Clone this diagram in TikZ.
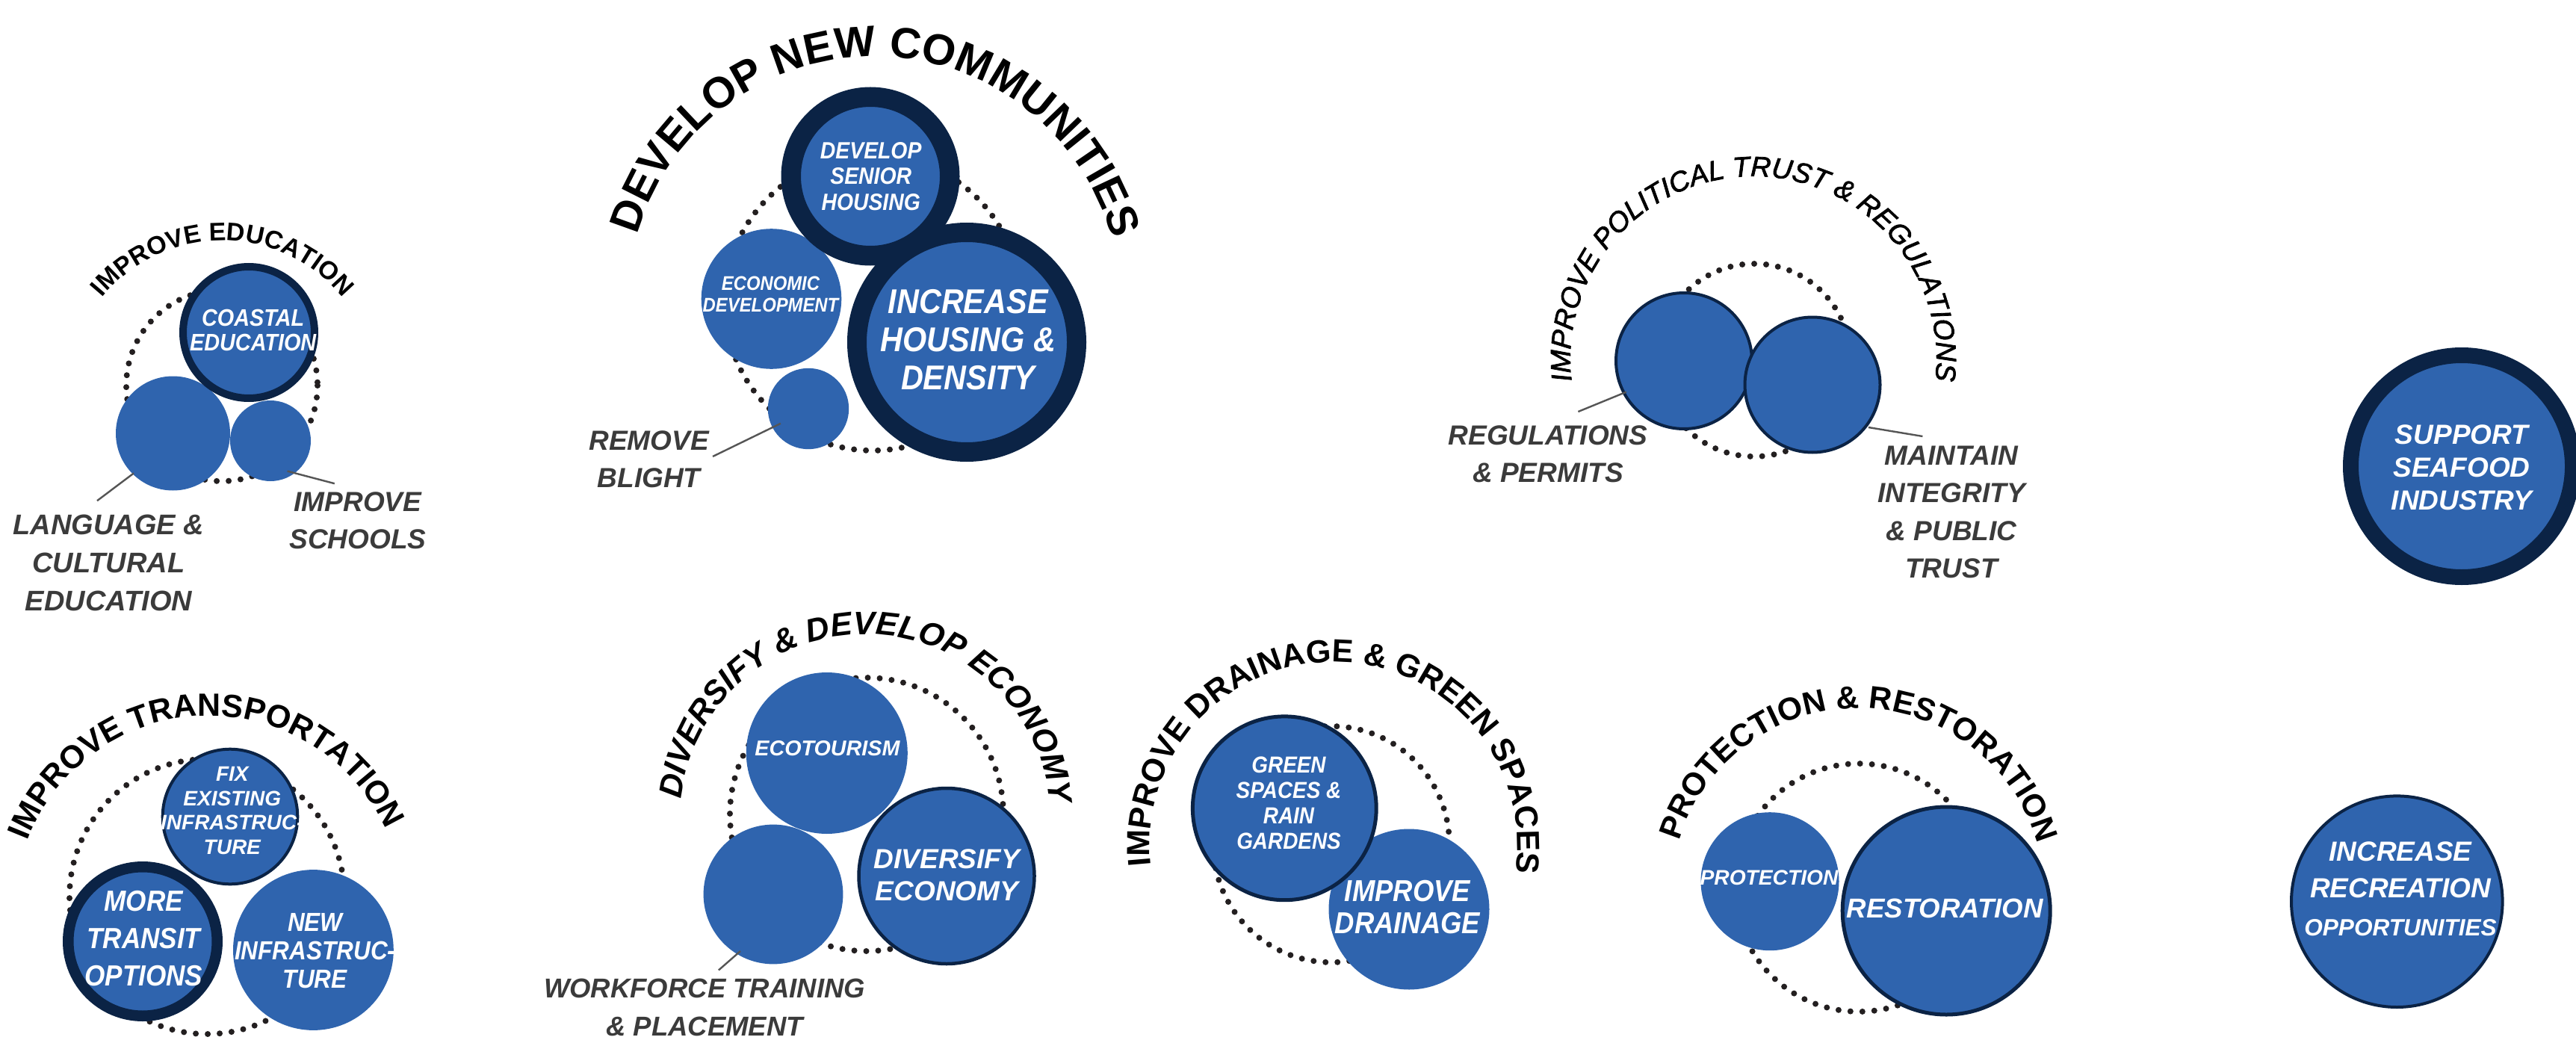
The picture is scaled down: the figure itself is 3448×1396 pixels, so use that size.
\documentclass[tikz,border=0pt]{standalone}
\usepackage{fontspec}
\setmainfont{Liberation Sans}
\newfontfamily\nf[FakeStretch=0.9]{Liberation Sans}
\newfontfamily\mf[FakeBold=2]{Liberation Sans}
\usetikzlibrary{decorations.text}
\definecolor{cblue}{RGB}{47,100,174}
\definecolor{cnavy}{RGB}{11,35,69}
\definecolor{cgray}{RGB}{59,59,59}
\definecolor{cdot}{RGB}{35,31,32}
\definecolor{cline}{RGB}{85,85,85}
\newcommand\fs[2]{\fontsize{#1}{#2}\selectfont}
\tikzset{
  blob/.style={circle, fill=cblue, draw=none, inner sep=0pt, outer sep=0pt},
  ring/.style={blob, draw=cnavy},
  dotring/.style={draw=cdot, line width=4pt, line cap=round, dash pattern=on 0pt off 8pt},
  wtext/.style={text=white, align=center, inner sep=0pt},
  gtext/.style={text=cgray, align=center, inner sep=0pt},
  leader/.style={draw=cline, line width=1.2pt},
}
\begin{document}
\begin{tikzpicture}[x=0.5pt,y=-0.5pt]
\fill[white] (0,0) rectangle (3448,1396);
\useasboundingbox (0,0) rectangle (3448,1396);

% ---------- Group 1: Improve education
\coordinate (d1) at (297,516);
\coordinate (t1) at (298,530);
\draw[dotring] (d1) circle[radius=128];
\node[blob, minimum size=76.5pt] (lang) at (231.5,580) {};
\node[blob, minimum size=54pt] (school) at (362,590) {};
\node[ring, minimum size=88pt, line width=5pt] (coast) at (333,445) {};
\node[wtext, font=\nf\fs{16pt}{16.35pt}\bfseries\itshape] (coastT) at (338.7,442) {COASTAL\\EDUCATION};
\node[gtext, font=\fs{19pt}{25.5pt}\bfseries\itshape] (langL) at (145.5,753) {LANGUAGE \&\\CULTURAL\\EDUCATION};
\node[gtext, font=\fs{18.5pt}{25pt}\bfseries\itshape] (schoolL) at (479,697) {IMPROVE\\SCHOOLS};
\coordinate (langA) at (130,670.2); \coordinate (langB) at (179,633.4);
\draw[leader] (langA) -- (langB);
\coordinate (schA) at (447.8,647.2); \coordinate (schB) at (384.6,630.6);
\draw[leader] (schA) -- (schB);
\path[decorate, decoration={text along path, text align=center,
  text={|\fs{17pt}{17pt}\bfseries|IMPROVE EDUCATION}}]
  (t1) ++(-180:208) arc[start angle=-180, end angle=0, radius=208];

% ---------- Group 2: Develop new communities
\coordinate (d2) at (1168,405);
\coordinate (t2) at (1170,406);
\draw[dotring] (d2) circle[radius=198];
\node[blob, minimum size=93.8pt] (econ) at (1032.5,400) {};
\node[blob, minimum size=54.2pt] (blight) at (1082,547) {};
\node[ring, minimum size=106.25pt, line width=13.25pt] (senior) at (1165,236) {};
\node[ring, minimum size=147pt, line width=13pt] (incr) at (1294,458) {};
\node[wtext, font=\nf\fs{15.75pt}{17.25pt}\bfseries\itshape] (seniorT) at (1165.7,235.7) {DEVELOP\\SENIOR\\HOUSING};
\node[wtext, font=\nf\fs{13.25pt}{14.5pt}\bfseries\itshape] (econT) at (1031.5,393.5) {ECONOMIC\\DEVELOPMENT};
\node[wtext, font=\nf\fs{23pt}{25.5pt}\bfseries\itshape] (incrT) at (1295.7,455) {INCREASE\\HOUSING \&\\DENSITY};
\node[gtext, font=\fs{18.5pt}{25pt}\bfseries\itshape] (blightL) at (868.6,615) {REMOVE\\BLIGHT};
\coordinate (blA) at (954,611); \coordinate (blB) at (1044.8,566.8);
\draw[leader] (blA) -- (blB);
\path[decorate, decoration={text along path, text align=center,
  text={|\fs{29pt}{29pt}\bfseries|DEVELOP NEW COMMUNITIES}}]
  (t2) ++(-179.5:330) arc[start angle=-179.5, end angle=0.5, radius=330];

% ---------- Group 3: Political trust
\coordinate (d3) at (2348,482);
\coordinate (t3) at (2347,481);
\draw[dotring] (d3) circle[radius=129];
\node[ring, minimum size=91pt, line width=2pt] (regs) at (2254,483) {};
\node[ring, minimum size=90.5pt, line width=2pt] (maint) at (2426,515) {};
\node[gtext, font=\fs{18.5pt}{25.25pt}\bfseries\itshape] (regsL) at (2072,608) {REGULATIONS\\\& PERMITS};
\node[gtext, font=\fs{18.5pt}{25.25pt}\bfseries\itshape] (maintL) at (2612,685.5) {MAINTAIN\\INTEGRITY\\\& PUBLIC\\TRUST};
\coordinate (rgA) at (2112.4,551); \coordinate (rgB) at (2176.8,524.6);
\draw[leader] (rgA) -- (rgB);
\coordinate (mtA) at (2501,572); \coordinate (mtB) at (2573.4,584);
\draw[leader] (mtA) -- (mtB);
\path[decorate, decoration={text along path, text align=center,
  text={|\mf\fs{18.8pt}{18.8pt}\itshape|IMPROVE POLITICAL TRUST {\&} REGULATIONS}}]
  (t3) ++(-200:245) arc[start angle=-200, end angle=20, radius=245];

% ---------- Group 4: Seafood
\node[ring, minimum size=148.5pt, line width=10.5pt] (seafood) at (3295,624) {};
\node[wtext, font=\fs{18.5pt}{22pt}\bfseries\itshape] (seafoodT) at (3295,625.5) {SUPPORT\\SEAFOOD\\INDUSTRY};

% ---------- Group 5: Transportation
\coordinate (d5) at (277,1200);
\coordinate (t5) at (280,1218);
\draw[dotring] (d5) circle[radius=184];
\node[ring, minimum size=90.3pt, line width=2pt] (fix) at (308,1093) {};
\node[blob, minimum size=107.4pt] (newinf) at (419.4,1271.5) {};
\node[ring, minimum size=99.75pt, line width=7.25pt] (transit) at (191,1260) {};
\node[wtext, font=\fs{14pt}{16.35pt}\bfseries\itshape] (fixT) at (310.8,1085) {FIX\\EXISTING\\INFRASTRUC-\\TURE};
\node[wtext, font=\nf\fs{19.5pt}{25pt}\bfseries\itshape] (transitT) at (192.4,1256) {MORE\\TRANSIT\\OPTIONS};
\node[wtext, font=\nf\fs{17.5pt}{19pt}\bfseries\itshape] (newinfT) at (421.8,1273) {NEW\\INFRASTRUC-\\TURE};
\path[decorate, decoration={text along path, text align=center,
  text={|\fs{21.5pt}{21.5pt}\bfseries|IMPROVE TRANSPORTATION}}]
  (t5) ++(-181.8:260) arc[start angle=-181.8, end angle=-1.8, radius=260];

% ---------- Group 6: Economy
\coordinate (d6) at (1160,1090);
\coordinate (t6) at (1158,1097);
\draw[dotring] (d6) circle[radius=183];
\node[blob, minimum size=108pt] (eco) at (1106.8,1008) {};
\node[blob, minimum size=93.4pt] (work) at (1035,1197) {};
\node[ring, minimum size=117.5pt, line width=2.25pt] (divers) at (1267,1172.5) {};
\node[wtext, font=\fs{14.35pt}{14.35pt}\bfseries\itshape] (ecoT) at (1107.4,1001.7) {ECOTOURISM};
\node[wtext, font=\fs{18.5pt}{21.5pt}\bfseries\itshape] (diversT) at (1267.5,1171) {DIVERSIFY\\ECONOMY};
\node[gtext, font=\fs{18.25pt}{25.5pt}\bfseries\itshape] (workL) at (943,1348) {WORKFORCE TRAINING\\\& PLACEMENT};
\coordinate (wkA) at (961.9,1298.5); \coordinate (wkB) at (991,1273);
\draw[leader] (wkA) -- (wkB);
\path[decorate, decoration={text along path, text align=center,
  text={|\fs{21.8pt}{21.8pt}\bfseries\itshape|DIVERSIFY {\&} DEVELOP ECONOMY}}]
  (t6) ++(-179.2:248) arc[start angle=-179.2, end angle=0.8, radius=248];

% ---------- Group 7: Drainage
\coordinate (d7) at (1782,1130);
\coordinate (t7) at (1785,1132);
\draw[dotring] (d7) circle[radius=158];
\node[blob, minimum size=107.5pt] (drain) at (1886,1217) {};
\node[ring, minimum size=122.9pt, line width=2.5pt] (green) at (1719.3,1081.8) {};
\node[wtext, font=\nf\fs{15.5pt}{17pt}\bfseries\itshape] (greenT) at (1725,1074.5) {GREEN\\SPACES \&\\RAIN\\GARDENS};
\node[wtext, font=\nf\fs{20.25pt}{21.35pt}\bfseries\itshape] (drainT) at (1884,1214) {IMPROVE\\DRAINAGE};
\path[decorate, decoration={text along path, text align=center,
  text={|\fs{21.5pt}{21.5pt}\bfseries|IMPROVE DRAINAGE {\&} GREEN SPACES}}]
  (t7) ++(-198.9:246) arc[start angle=-198.9, end angle=21.1, radius=246];

% ---------- Group 8: Protection & restoration
\coordinate (d8) at (2488,1188);
\coordinate (t8) at (2487,1198);
\draw[dotring] (d8) circle[radius=166];
\node[blob, minimum size=92.5pt] (prot) at (2369,1179.7) {};
\node[ring, minimum size=139pt, line width=2.5pt] (rest) at (2605.2,1219) {};
\node[wtext, font=\fs{14.1pt}{14.1pt}\bfseries\itshape] (protT) at (2368,1174.5) {PROTECTION};
\node[wtext, font=\fs{18.3pt}{18.3pt}\bfseries\itshape] (restT) at (2603.3,1215.6) {RESTORATION};
\path[decorate, decoration={text along path, text align=center,
  text={|\fs{21.25pt}{21.25pt}\bfseries|PROTECTION {\&} RESTORATION}}]
  (t8) ++(-179.6:250) arc[start angle=-179.6, end angle=0.4, radius=250];

% ---------- Group 9: Recreation
\node[ring, minimum size=141.3pt, line width=2pt] (recr) at (3208.3,1206.7) {};
\node[wtext, font=\fs{18.5pt}{18.5pt}\bfseries\itshape] (rec1) at (3213,1140) {INCREASE};
\node[wtext, font=\fs{18.5pt}{18.5pt}\bfseries\itshape] (rec2) at (3213,1188.3) {RECREATION};
\node[wtext, font=\fs{15.8pt}{15.8pt}\bfseries\itshape] (rec3) at (3213,1241.7) {OPPORTUNITIES};
\end{tikzpicture}
\end{document}
